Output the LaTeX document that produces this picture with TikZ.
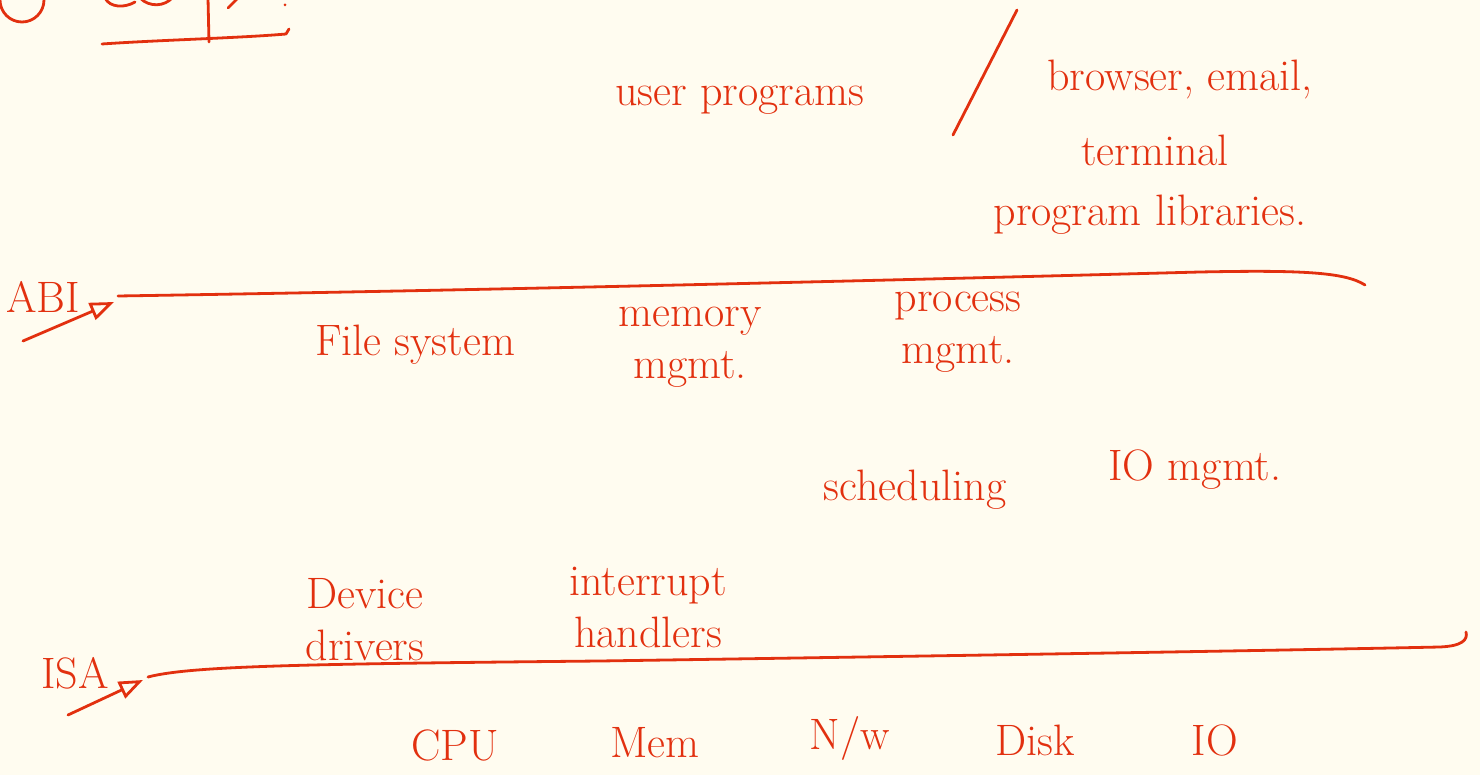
\documentclass[tikz,border=0pt]{standalone}
\usetikzlibrary{arrows.meta}
\definecolor{paper}{HTML}{FFFCF0}
\definecolor{ink}{HTML}{E2300F}
\begin{document}
\begin{tikzpicture}[x=0.5pt,y=-0.5pt,
  pen/.style={draw=ink, line width=1.4pt, line cap=round, line join=round},
  note/.style={text=ink, font=\fontsize{22}{26}\selectfont, align=center, inner sep=0pt},
  layerarrow/.style={pen, -{Triangle[open, length=12pt, width=9pt]}}]
\fill[paper] (0,0) rectangle (1480,775);
\useasboundingbox (0,0) rectangle (1480,775);

% heading fragment at the top edge
\begin{scope}
  \clip (0,0) rectangle (1480,775);
  \draw[pen] (22,0) ellipse (22 and 22);
  \draw[pen] (105,-2) .. controls (110,8) and (125,8) .. (135,2);
  \draw[pen] (140,-2) .. controls (150,8) and (165,6) .. (172,-2);
  \draw[pen] (228,8) -- (238,-2);
  \fill[ink] (285,5) circle (1.5);
  \draw[pen] (102,44) .. controls (160,40) and (240,38) .. (286,34) -- (289,29);
  \draw[pen] (208,-2) -- (209,42);
\end{scope}

% user space
\node[note] (user) at (740,100) {user programs};
\coordinate (slashlow) at (953,135);
\coordinate (slashhigh) at (1017,10);
\draw[pen] (slashlow) -- (slashhigh);
\node[note] (apps) at (1180,80) {browser, email,};
\node[note] (term) at (1155,150) {terminal};
\node[note] (libs) at (1150,215) {program libraries.};

% ABI boundary
\coordinate (abiL) at (118,296);
\coordinate (abiR) at (1365,285);
\draw[pen] (abiL) .. controls (500,290) and (900,280) .. (1200,272)
  .. controls (1300,270) and (1345,272) .. (abiR);
\node[note] (abi) at (43,297) {ABI};
\coordinate (abitail) at (23,341);
\draw[layerarrow] (abitail) -- (114,302);

% kernel services
\node[note] (fs) at (415,345) {File system};
\node[note] (mem) at (690,347) {memory\\mgmt.};
\node[note] (proc) at (958,332) {process\\mgmt.};
\node[note] (sched) at (915,490) {scheduling};
\node[note] (iom) at (1195,470) {IO mgmt.};
\node[note] (drv) at (365,620) {Device\\drivers};
\node[note] (irq) at (648,607) {interrupt\\handlers};

% ISA boundary
\coordinate (isaL) at (148,677);
\coordinate (isaR) at (1466,632);
\draw[pen] (isaL) .. controls (190,666) and (300,664) .. (600,661)
  .. controls (1000,655) and (1300,650) .. (1440,647)
  .. controls (1462,646) and (1468,640) .. (isaR);
\node[note] (isa) at (75,673) {ISA};
\coordinate (isatail) at (68,715);
\draw[layerarrow] (isatail) -- (143,680);

% hardware
\node[note] (cpu) at (455,745) {CPU};
\node[note] (memhw) at (655,743) {Mem};
\node[note] (net) at (850,738) {N/w};
\node[note] (disk) at (1035,740) {Disk};
\node[note] (io) at (1215,740) {IO};
\end{tikzpicture}
\end{document}
